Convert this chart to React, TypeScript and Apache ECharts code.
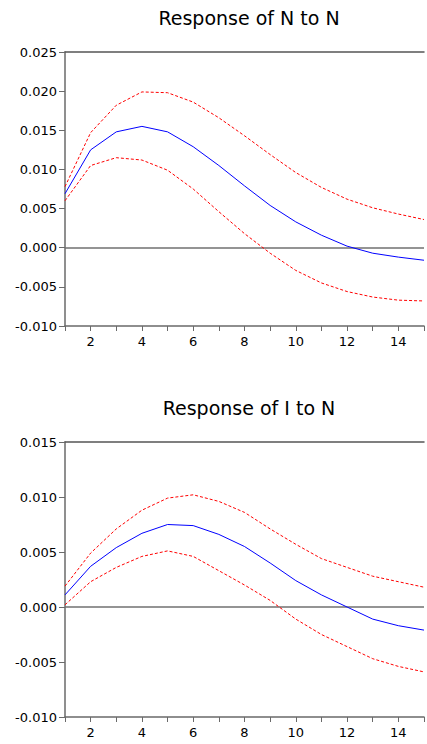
import React, { useEffect, useRef } from "react";
import * as echarts from "echarts";

const periods = [1, 2, 3, 4, 5, 6, 7, 8, 9, 10, 11, 12, 13, 14, 15];

// Response of N to N
const nResp = [0.0069, 0.0125, 0.0148, 0.0155, 0.0148, 0.0129, 0.0105, 0.0079, 0.0054, 0.0033, 0.0016, 0.0002, -0.0007, -0.0012, -0.0016];
const nUpper = [0.0078, 0.0147, 0.0182, 0.0199, 0.0198, 0.0186, 0.0166, 0.0143, 0.0119, 0.0096, 0.0077, 0.0062, 0.0051, 0.0043, 0.0036];
const nLower = [0.0060, 0.0105, 0.0115, 0.0112, 0.0099, 0.0075, 0.0046, 0.0018, -0.0007, -0.0029, -0.0045, -0.0056, -0.0063, -0.0067, -0.0068];

// Response of I to N
const iResp = [0.0011, 0.0037, 0.0054, 0.0067, 0.0075, 0.0074, 0.0066, 0.0055, 0.0040, 0.0024, 0.0011, 0.0000, -0.0011, -0.0017, -0.0021];
const iUpper = [0.0019, 0.0049, 0.0071, 0.0088, 0.0099, 0.0102, 0.0096, 0.0086, 0.0071, 0.0057, 0.0044, 0.0036, 0.0028, 0.0023, 0.0018];
const iLower = [0.0002, 0.0023, 0.0036, 0.0046, 0.0051, 0.0046, 0.0033, 0.0020, 0.0006, -0.0011, -0.0025, -0.0036, -0.0047, -0.0054, -0.0059];

const titles = ["Response of N to N", "Response of I to N"];
const yRanges = [
  { min: -0.01, max: 0.025 },
  { min: -0.01, max: 0.015 },
];

const FONT = "DejaVu Sans, Liberation Sans, Arial, sans-serif";

export default function App() {
  const ref = useRef<HTMLDivElement>(null);

  useEffect(() => {
    if (!ref.current) return;
    const chart = echarts.init(ref.current, null, { renderer: "svg" });

    const grids = [
      { left: 65, top: 52, width: 368, height: 274 },
      { left: 65, top: 442, width: 368, height: 275 },
    ];

    const pair = (arr: number[]) => periods.map((p, i) => [p, arr[i]]);

    const xAxes: any[] = [];
    const yAxes: any[] = [];
    [0, 1].forEach((g) => {
      xAxes.push({
        type: "value",
        gridIndex: g,
        min: 1,
        max: 15,
        interval: 1,
        position: "bottom",
        axisLine: { show: true, onZero: false, lineStyle: { color: "#6a6a6a", width: 1.5 } },
        axisTick: { show: true, length: 5, lineStyle: { color: "#6a6a6a", width: 1 } },
        axisLabel: {
          show: true,
          margin: 9,
          fontFamily: FONT,
          fontSize: 13,
          color: "#000",
          formatter: (v: number) => (v % 2 === 0 ? String(v) : ""),
        },
        splitLine: { show: false },
      });
      xAxes.push({
        type: "value",
        gridIndex: g,
        min: 1,
        max: 15,
        position: "top",
        axisLine: { show: true, onZero: false, lineStyle: { color: "#555", width: 1.5 } },
        axisTick: { show: false },
        axisLabel: { show: false },
        splitLine: { show: false },
      });
      yAxes.push({
        type: "value",
        gridIndex: g,
        min: yRanges[g].min,
        max: yRanges[g].max,
        interval: 0.005,
        axisLine: { show: true, onZero: false, lineStyle: { color: "#6a6a6a", width: 1.5 } },
        axisTick: { show: true, length: 6, lineStyle: { color: "#6a6a6a", width: 1 } },
        axisLabel: {
          show: true,
          margin: 8,
          fontFamily: FONT,
          fontSize: 13,
          color: "#000",
          padding: [0, 0, 4, 0],
          formatter: (v: number) => v.toFixed(3),
        },
        splitLine: { show: false },
      });
    });

    const mkSeries = (g: number, resp: number[], up: number[], lo: number[]) => [
      {
        type: "line",
        xAxisIndex: g * 2,
        yAxisIndex: g,
        data: pair(up),
        symbol: "none",
        lineStyle: { color: "#FF0000", width: 1, type: [3, 2] },
        z: 3,
      },
      {
        type: "line",
        xAxisIndex: g * 2,
        yAxisIndex: g,
        data: pair(lo),
        symbol: "none",
        lineStyle: { color: "#FF0000", width: 1, type: [3, 2] },
        z: 3,
      },
      {
        type: "line",
        xAxisIndex: g * 2,
        yAxisIndex: g,
        data: pair(resp),
        symbol: "none",
        lineStyle: { color: "#0000FF", width: 1 },
        z: 4,
        markLine: {
          silent: true,
          symbol: ["none", "none"],
          label: { show: false },
          lineStyle: { color: "#707070", width: 1.5, type: "solid" },
          data: [{ yAxis: 0 }],
          z: 2,
        },
      },
    ];

    chart.setOption({
      animation: false,
      backgroundColor: "#ffffff",
      grid: grids,
      xAxis: xAxes,
      yAxis: yAxes,
      series: [
        ...mkSeries(0, nResp, nUpper, nLower),
        ...mkSeries(1, iResp, iUpper, iLower),
      ],
      graphic: [
        {
          type: "text",
          x: 249,
          y: 18,
          style: {
            text: titles[0],
            align: "center",
            verticalAlign: "middle",
            fontFamily: FONT,
            fontSize: 19,
            fill: "#000",
          },
        },
        {
          type: "text",
          x: 249,
          y: 408,
          style: {
            text: titles[1],
            align: "center",
            verticalAlign: "middle",
            fontFamily: FONT,
            fontSize: 19,
            fill: "#000",
          },
        },
      ],
    });

    return () => chart.dispose();
  }, []);

  return (
    <div
      ref={ref}
      style={{ position: "absolute", left: 0, top: 0, width: 427, height: 744, background: "#fff" }}
    />
  );
}
